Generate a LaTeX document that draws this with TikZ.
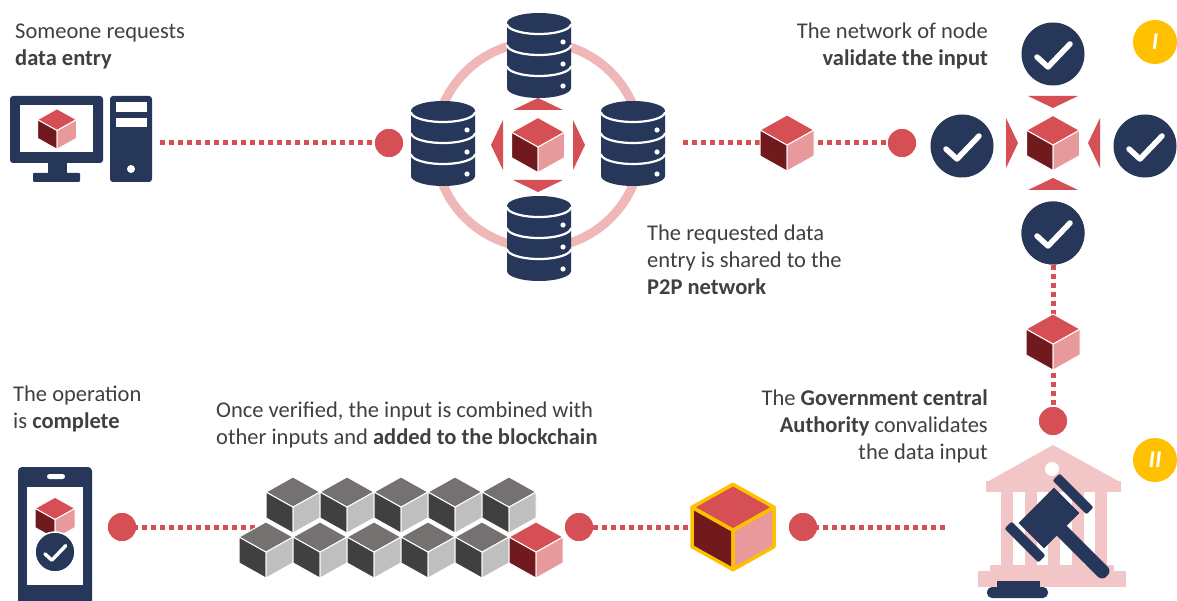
\documentclass[tikz,border=0pt]{standalone}
\usepackage{fontspec}
\setmainfont{Carlito}
\usepackage{tikz}

\definecolor{navy}{HTML}{26375A}
\definecolor{cred}{HTML}{D64F55}
\definecolor{cdark}{HTML}{701A1E}
\definecolor{clight}{HTML}{E8999C}
\definecolor{ring}{HTML}{F0B7B9}
\definecolor{court}{HTML}{F2C5C6}
\definecolor{gold}{HTML}{FFC000}
\definecolor{gtop}{HTML}{767171}
\definecolor{gleft}{HTML}{404040}
\definecolor{gright}{HTML}{BFBFBF}
\definecolor{ctext}{HTML}{404040}

\begin{document}
\begin{tikzpicture}[x=1pt, y=-1pt,
        txt/.style={text=ctext, font=\fontsize{22.5}{27}\selectfont, inner sep=0pt},
        dots/.style={draw=cred, line width=5pt, dash pattern=on 5pt off 4pt},
        reddot/.style={circle, fill=cred, minimum size=28pt, inner sep=0pt},
        chk/.style={circle, fill=navy, minimum size=63pt, inner sep=0pt},
        badge/.style={circle, fill=gold, minimum size=44pt, inner sep=0pt, text=white,
            font=\fontsize{24}{24}\selectfont\bfseries\itshape},
        cube edge/.style={draw=white, line width=1pt, line join=round},
        pics/cube/.style args={#1/#2/#3}{code={
            \path[fill=#1, cube edge] (0,-1.04) -- (1,-0.48) -- (0,0.08) -- (-1,-0.48) -- cycle;
            \path[fill=#2, cube edge] (-1,-0.48) -- (0,0.08) -- (0,1.04) -- (-1,0.48) -- cycle;
            \path[fill=#3, cube edge] (0,0.08) -- (1,-0.48) -- (1,0.48) -- (0,1.04) -- cycle;
        }},
        pics/cube/.default=cred/cdark/clight,
        pics/spikes/.style 2 args={code={
            \foreach \a in {0,90,180,270}
                \fill[cred, rotate=\a] (#1,0) -- (#2,-25) -- (#2,25) -- cycle;
        }},
        pics/db/.style={code={
            \fill[navy] (-32,-32) -- (-32,33) arc[start angle=180, end angle=0, x radius=32, y radius=10]
                -- (32,-32) arc[start angle=0, end angle=-180, x radius=32, y radius=10] -- cycle;
            \foreach \y in {-31,-10,11}
                \draw[white, line width=2.2pt] (-32,\y) arc[start angle=180, end angle=0, x radius=32, y radius=10];
            \foreach \y in {-13,9,31}
                \fill[white] (24,\y) circle[radius=2.6];
        }},
        pics/tick/.style={code={
            \draw[white, line width=#1, line cap=round, line join=round] (-16,3) -- (-5,13) -- (17,-10);
        }},
        pics/tick/.default=5.5pt]

    \fill[white] (0,0) rectangle (1177,601);
    \useasboundingbox (0,0) rectangle (1177,601);

    % connectors
    \coordinate (pc) at (160,143);
    \node[reddot] (in) at (389,143) {};
    \draw[dots] (pc) -- (in.west);
    \coordinate (share) at (683,143);
    \coordinate (req) at (787,143);
    \node[reddot] (vin) at (902,143) {};
    \draw[dots] (share) -- (req) -- (vin.west);
    \node[chk] (vb) at (1053,233) {};
    \coordinate (pass) at (1053,342);
    \node[reddot] (auth) at (1053,421) {};
    \draw[dots] (vb) -- (pass) -- (auth.north);
    \coordinate (gov) at (945,527);
    \node[reddot] (out) at (803,527) {};
    \draw[dots] (gov) -- (out.east);
    \coordinate (seal) at (733,527);
    \node[reddot] (blk) at (579,527) {};
    \draw[dots] (seal) -- (blk);
    \coordinate (chain) at (255,527);
    \node[reddot] (done) at (122,527) {};
    \draw[dots] (chain) -- (done);
    \node[reddot] at (in) {};
    \node[reddot] at (vin) {};
    \node[reddot] at (auth) {};
    \node[reddot] at (out) {};
    \node[reddot] at (blk) {};
    \node[reddot] at (done) {};

    % computer
    \fill[navy, rounded corners=3] (10,96) rectangle (103,163);
    \fill[white] (20,105) rectangle (93,152);
    \fill[navy] (48,162) rectangle (67,175);
    \fill[navy, rounded corners=1] (33,173) rectangle (80,182);
    \fill[navy, rounded corners=3] (110,96) rectangle (152,182);
    \fill[white] (116,102) rectangle (147,112);
    \fill[white] (116,118) rectangle (147,127);
    \fill[white] (131,169) circle[radius=4];
    \pic[scale=19.5] at (57,129) {cube};

    % p2p ring
    \coordinate (hub) at (538,145);
    \draw[ring, line width=9pt] (hub) circle[radius=103];
    \pic at (539,55) {db};
    \pic at (443,143) {db};
    \pic at (633,143) {db};
    \pic at (539,238) {db};
    \pic at (hub) {spikes={47}{35}};
    \pic[scale=26.5] at (hub) {cube};
    \pic[scale=27] at (req) {cube};

    % validation
    \node[chk] (vt) at (1053,54) {};
    \node[chk] (vl) at (962,146) {};
    \node[chk] (vr) at (1145,146) {};
    \node[chk] at (vb) {};
    \foreach \n in {vt,vl,vr,vb}
        \pic at (\n) {tick};
    \pic at (1053,143) {spikes={35}{47}};
    \pic[scale=26.5] at (1053,143) {cube};
    \pic[scale=27] at (pass) {cube};
    \node[badge] (b1) at (1155,42) {I};
    \node[badge] (b2) at (1155,460) {II};

    % court and gavel
    \fill[court] (1053,445) -- (1120,482) -- (987,482) -- cycle;
    \fill[court] (986,481) rectangle (1121,492);
    \fill[white] (1052,469) circle[radius=7];
    \foreach \x in {1001,1024.5,1048,1071.5,1095}
        \fill[court] (\x,491) rectangle (\x+12,566);
    \fill[court] (990,565) rectangle (1114,572);
    \fill[court] (978,571) rectangle (1126,587);
    \begin{scope}[shift={(1049,518)}, rotate=-45]
        \fill[navy] (-18,-25) rectangle (18,25);
        \fill[navy, rounded corners=2] (-24,29) rectangle (24,39);
        \fill[navy, rounded corners=2] (-24,-39) rectangle (24,-29);
        \fill[navy, rounded corners=6] (10,-7) rectangle (82,7);
    \end{scope}
    \fill[navy] (997,581) rectangle (1040,588);
    \fill[navy, rounded corners=5] (987,587) rectangle (1048,598);

    % sealed block
    \pic[scale=41, cube edge/.style={draw=gold, line width=3.5pt, line join=round}] at (seal) {cube};

    % blockchain
    \foreach \x in {293,347,401,455,509}
        \pic[scale=27] at (\x,505) {cube=gtop/gleft/gright};
    \foreach \x in {266,320,374,428,482}
        \pic[scale=27] at (\x,550) {cube=gtop/gleft/gright};
    \pic[scale=27] at (536,550) {cube};

    % phone
    \fill[navy, rounded corners=4] (18,467) rectangle (92,612);
    \fill[white, rounded corners=2.5] (47,474) rectangle (65,479);
    \fill[white] (27,487) rectangle (83,585);
    \pic[scale=20] at (55,518) {cube};
    \node[chk, minimum size=40pt, draw=white, line width=1.5pt] (ok) at (55,552) {};
    \pic[scale=0.63] at (ok) {tick=3.5pt};

    % texts (base = last line)
    \node[txt, anchor=base west, align=left] (t1) at (15,66) {Someone requests\\\textbf{data entry}};
    \node[txt, anchor=base east, align=right] (t2) at (988,66) {The network of node\\\textbf{validate the input}};
    \node[txt, anchor=base west, align=left] (t3) at (647,295) {The requested data\\entry is shared to the\\\textbf{P2P network}};
    \node[txt, anchor=base east, align=right] (t4) at (988,459) {The \textbf{Government central}\\\textbf{Authority} convalidates\\the data input};
    \node[txt, anchor=base west, align=left] (t5) at (13,428) {The operation\\is \textbf{complete}};
    \node[txt, anchor=base west, align=left] (t6) at (216,444) {Once verified, the input is combined with\\other inputs and \textbf{added to the blockchain}};
\end{tikzpicture}
\end{document}
